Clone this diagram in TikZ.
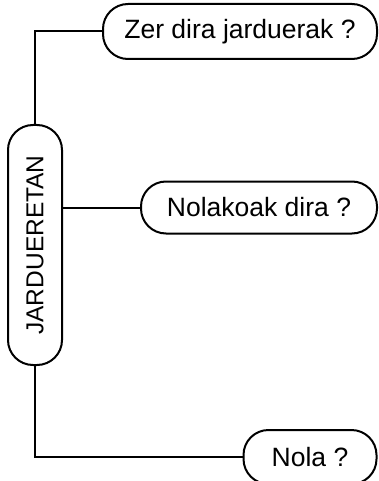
\documentclass[tikz,border=0pt]{standalone}
\usepackage{fontspec}
\setmainfont{Liberation Sans}
\begin{document}
\begin{tikzpicture}
  [x=1pt,y=-1pt,line width=2pt,every node/.style={draw,rounded corners=25pt,inner sep=0pt,minimum height=55pt,font=\fontsize{26.5}{30}\selectfont}]
  \useasboundingbox (0,0) rectangle (378,481);
  \node (jard)[rotate=90,minimum width=240pt,minimum height=54pt,font=\fontsize{24.5}{28}\selectfont] at (35,245) {JARDUERETAN};
  \node (zer)[minimum width=274pt] at (240,31.5) {Zer dira jarduerak ?};
  \node (nolakoak)[minimum width=236pt,minimum height=52pt] at (259,207.5) {Nolakoak dira ?};
  \node (nola)[minimum width=133pt,minimum height=54pt] at (310,457) {Nola ?};

  \draw (jard.east) |- (zer.west);
  \draw (nolakoak.west) -- (nolakoak.west -| jard.south);
  \draw (jard.west) |- (nola.west);

\end{tikzpicture}
\end{document}
